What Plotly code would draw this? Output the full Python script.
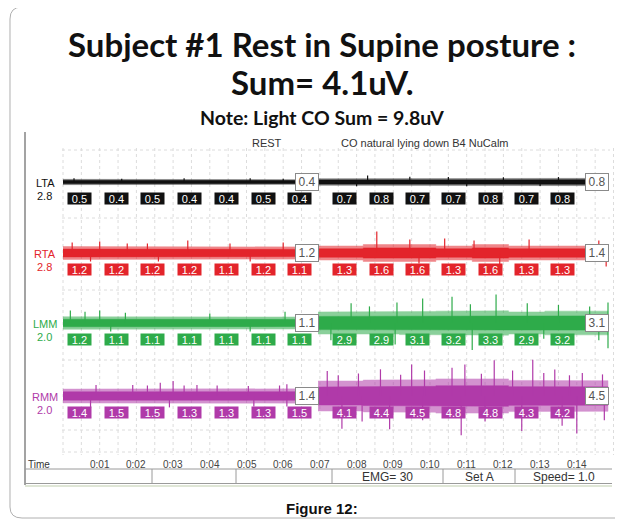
import numpy as np
import plotly.graph_objects as go

# ---------------- data ----------------
channels = ["LTA", "RTA", "LMM", "RMM"]
gains = ["2.8", "2.8", "2.0", "2.0"]
colors = ["#111111", "#e3242b", "#2eab4a", "#b03aa9"]

seg1_vals = {
    "LTA": [0.5, 0.4, 0.5, 0.4, 0.4, 0.5, 0.4],
    "RTA": [1.2, 1.2, 1.2, 1.2, 1.1, 1.2, 1.1],
    "LMM": [1.2, 1.1, 1.1, 1.1, 1.1, 1.1, 1.1],
    "RMM": [1.4, 1.5, 1.5, 1.3, 1.3, 1.3, 1.5],
}
seg2_vals = {
    "LTA": [0.7, 0.8, 0.7, 0.7, 0.8, 0.7, 0.8],
    "RTA": [1.3, 1.6, 1.6, 1.3, 1.6, 1.3, 1.3],
    "LMM": [2.9, 2.9, 3.1, 3.2, 3.3, 2.9, 3.2],
    "RMM": [4.1, 4.4, 4.5, 4.8, 4.8, 4.3, 4.2],
}
seg1_avg = {"LTA": 0.4, "RTA": 1.2, "LMM": 1.1, "RMM": 1.4}
seg2_avg = {"LTA": 0.8, "RTA": 1.4, "LMM": 3.1, "RMM": 4.5}

# spikes (time s, amplitude uV)
spikes_up = {
    "LTA": ([0.3, 1.6, 3.3, 5.1, 6.0, 8.3, 9.45, 10.5, 12.0, 13.5],
            [0.8, 0.7, 0.8, 0.8, 0.7, 1.7, 1.3, 1.2, 1.1, 1.2]),
    "RTA": ([0.25, 1.0, 1.75, 2.3, 3.4, 4.55, 6.0, 8.55, 9.45, 10.4, 11.2, 12.7, 14.6],
            [2.0, 2.2, 1.8, 1.8, 2.4, 1.8, 2.0, 4.2, 2.6, 2.8, 2.4, 2.6, 2.4]),
    "LMM": ([0.2, 0.6, 1.0, 1.7, 4.0, 6.05, 7.85, 8.35, 9.1, 9.8, 10.6, 11.1, 11.8, 12.65, 13.5, 14.35, 14.85],
            [3.4, 3.0, 3.4, 2.6, 2.4, 3.0, 6.0, 4.9, 6.3, 7.7, 8.3, 5.7, 9.1, 6.0, 5.4, 4.9, 6.3]),
    "RMM": ([0.9, 1.9, 2.3, 2.65, 3.0, 3.3, 3.65, 4.2, 5.05, 5.9, 6.1, 7.2, 7.5, 8.05, 8.65, 9.2, 9.5, 9.85,
             10.6, 10.95, 11.4, 11.75, 12.25, 12.8, 13.1, 13.4, 13.8, 14.15, 14.7],
            [2.8, 2.8, 2.6, 3.5, 4.1, 2.6, 2.8, 2.6, 2.4, 2.6, 3.0, 7.4, 6.0, 6.6, 8.0, 6.2, 9.6, 7.6,
             8.5, 9.6, 6.5, 11.0, 7.6, 11.2, 6.8, 7.9, 6.0, 6.8, 6.3]),
}
spikes_down = {
    "LTA": ([8.0, 11.0, 13.0], [1.0, 1.0, 0.9]),
    "RTA": ([0.75, 2.6, 5.1, 9.7, 11.9, 14.8], [1.6, 1.6, 1.6, 2.0, 2.4, 2.6]),
    "LMM": ([1.3, 5.1, 7.3, 9.05, 11.15, 13.1, 14.6, 14.85], [2.0, 2.0, 5.1, 6.6, 8.6, 4.6, 5.1, 8.0]),
    "RMM": ([0.75, 2.9, 5.2, 6.1, 7.6, 8.15, 8.9, 9.8, 10.85, 11.5, 12.5, 13.6, 14.0, 14.75],
            [3.0, 2.9, 2.6, 2.6, 10.0, 7.6, 10.2, 7.2, 12.2, 7.6, 10.8, 9.0, 11.6, 7.2]),
}

tick_secs = list(range(1, 15))
tick_labels = ["0:%02d" % s for s in tick_secs]
status_texts = ["", "", "", "EMG= 30", "Set A", "Speed= 1.0"]

# ---------------- layout helpers ----------------
OFF = 8                      # page body margin
W, H = 623 - OFF, 527 - 2 * OFF
PX0, PXS = 63.0 - OFF, 36.7  # figure pixel of t=0 and pixels per second
x_range = [(0 - PX0) / PXS, (W - PX0) / PXS]


def PX(xp):   # target-image x pixel -> paper
    return (xp - OFF) / W


def PY(yp):   # target-image y pixel -> y data
    return yp - OFF


centers = {"LTA": 182, "RTA": 253, "LMM": 323, "RMM": 396}
# display mapping of amplitude (uV) to trace half-height: base + gain * value
amp_base = {"LTA": 1.0, "RTA": 0.5, "LMM": 2.9, "RMM": 2.7}
amp_gain = {"LTA": 3.3, "RTA": 5.0, "LMM": 2.8, "RMM": 3.0}
seg1_start, seg1_end = 0.0, 6.95
seg2_start, seg2_end = 6.95, 14.85
seg1_box_t = 0.45 + np.arange(7)
seg2_box_t = 7.68 + 0.99 * np.arange(7)
ARIAL = "Liberation Sans, Arial"

fig = go.Figure()
shapes = []
annotations = []


def ann(x, y, text, size, color, xref="paper", **kw):
    d = dict(x=x, y=y, xref=xref, yref="y", text=text, showarrow=False,
             xanchor=kw.pop("xanchor", "center"), yanchor="middle",
             font=dict(family=kw.pop("family", ARIAL), size=size, color=color))
    d.update(kw)
    annotations.append(d)


# dotted grid
for t in np.arange(0, 15.01, 0.5):
    shapes.append(dict(type="line", xref="x", yref="y", x0=t, x1=t, y0=PY(148), y1=PY(455),
                       line=dict(color="#dcdcdc", width=1, dash="dot"), layer="below"))
for yy in [150, 218, 290, 360, 430, 452]:
    shapes.append(dict(type="line", xref="paper", yref="y", x0=PX(62), x1=PX(610), y0=PY(yy), y1=PY(yy),
                       line=dict(color="#dcdcdc", width=1, dash="dot"), layer="below"))


def bounds(start, end, box_t):
    return [start] + [float(box_t[i] + 0.5) for i in range(len(box_t) - 1)] + [end]


for ci, (ch, col) in enumerate(zip(channels, colors)):
    c = PY(centers[ch])
    hgt = lambda v, ch=ch: amp_base[ch] + amp_gain[ch] * v
    for vals, (s, e), bt in [(seg1_vals[ch], (seg1_start, seg1_end), seg1_box_t),
                             (seg2_vals[ch], (seg2_start, seg2_end), seg2_box_t)]:
        b = bounds(s, e, bt)
        for frac, op in [(1.0, 0.55), (0.6, 1.0)]:
            xs_top, ys_top = [], []
            for i, v in enumerate(vals):
                xs_top += [b[i], b[i + 1]]
                ys_top += [c - frac * hgt(v)] * 2
            xs_bot = xs_top[::-1]
            ys_bot = [2 * c - y for y in ys_top[::-1]]
            fig.add_trace(go.Scatter(x=xs_top + xs_bot, y=ys_top + ys_bot, fill="toself",
                                     fillcolor=col, opacity=op, line=dict(color=col, width=0.5),
                                     mode="lines", hoverinfo="skip", showlegend=False))
    # spikes
    xs, ys = [], []
    for (ts, amps), sign in [(spikes_up[ch], -1), (spikes_down[ch], 1)]:
        for t, a in zip(ts, amps):
            xs += [t, t, None]
            ys += [c, c + sign * hgt(a), None]
    fig.add_trace(go.Scatter(x=xs, y=ys, mode="lines", line=dict(color=col, width=1.2),
                             hoverinfo="skip", showlegend=False))
    # channel labels
    ann(PX(45), c + 1, ch, 11, col)
    ann(PX(44), c + 14, gains[ci], 11, col)
    # per-second boxes
    for bt, vals in [(seg1_box_t, seg1_vals[ch]), (seg2_box_t, seg2_vals[ch])]:
        for t, v in zip(bt, vals):
            ann(float(t), c + 16, "%.1f" % v, 11, "white", xref="x",
                bgcolor=col, width=23, height=11, borderpad=0)
    # segment average boxes
    for t, v in [(6.65, seg1_avg[ch]), (14.55, seg2_avg[ch])]:
        ann(t, c, "%.1f" % v, 12, "#555555", xref="x", bgcolor="white",
            bordercolor="#8a8a8a", borderwidth=1, borderpad=1, width=20, height=14)

# panel frame and status bar
def hline(x0, x1, y, color, width):
    shapes.append(dict(type="line", xref="paper", yref="y", x0=PX(x0), x1=PX(x1), y0=PY(y), y1=PY(y),
                       line=dict(color=color, width=width)))


shapes.append(dict(type="line", xref="paper", yref="y", x0=PX(25), x1=PX(25), y0=PY(132), y1=PY(485),
                   line=dict(color="#666666", width=1.2)))
hline(25, 612, 469, "#9a9a9a", 1)
hline(25, 612, 483.5, "#9a9a9a", 1)
hline(25, 612, 486, "#dfe6d6", 2)
div_x = [25, 152, 236, 332, 443, 515, 612]
for xx in div_x[1:-1]:
    shapes.append(dict(type="line", xref="paper", yref="y", x0=PX(xx), x1=PX(xx), y0=PY(469), y1=PY(483.5),
                       line=dict(color="#9a9a9a", width=1)))
for i, txt in enumerate(status_texts):
    if txt:
        ann(PX((div_x[i] + div_x[i + 1]) / 2), PY(476.5), txt, 12, "#333333")

# outer rounded frame (right side runs off the picture)
fx = lambda v: "%.5f" % PX(v)
path = ("M %s,%g L %s,%g Q %s,%g %s,%g L %s,%g Q %s,%g %s,%g L %s,%g"
        % (fx(640), PY(7), fx(22), PY(7), fx(10), PY(7), fx(10), PY(19), fx(10), PY(507),
           fx(10), PY(518), fx(22), PY(518), fx(640), PY(518)))
shapes.append(dict(type="path", xref="paper", yref="y", path=path, line=dict(color="#b0b0b0", width=1)))

# titles and captions
TFONT = "Lato, Open Sans"
ann(PX(322), PY(44), "<b>Subject #1 Rest in Supine posture :</b>", 33, "#111111", family=TFONT)
ann(PX(322), PY(82), "<b>Sum= 4.1uV.</b>", 33, "#111111", family=TFONT)
ann(PX(322), PY(117), "<b>Note: Light CO Sum = 9.8uV</b>", 19.5, "#111111", family=TFONT)
ann(PX(267), PY(143), "REST", 11, "#333333")
ann(PX(425), PY(143), "CO natural lying down B4 NuCalm", 11, "#333333")
ann(PX(26), PY(464), "Time", 10, "#333333", xanchor="left")
ann(PX(322), PY(508), "<b>Figure 12:</b>", 15, "#111111")
for s, lab in zip(tick_secs, tick_labels):
    ann(s, PY(464), lab, 10, "#444444", xref="x")

fig.update_layout(
    width=W, height=H, margin=dict(l=0, r=0, t=0, b=0),
    paper_bgcolor="white", plot_bgcolor="white",
    xaxis=dict(range=x_range, visible=False, fixedrange=True),
    yaxis=dict(range=[H, 0], visible=False, fixedrange=True),
    shapes=shapes, annotations=annotations, showlegend=False,
)
fig.write_html("out.html")
